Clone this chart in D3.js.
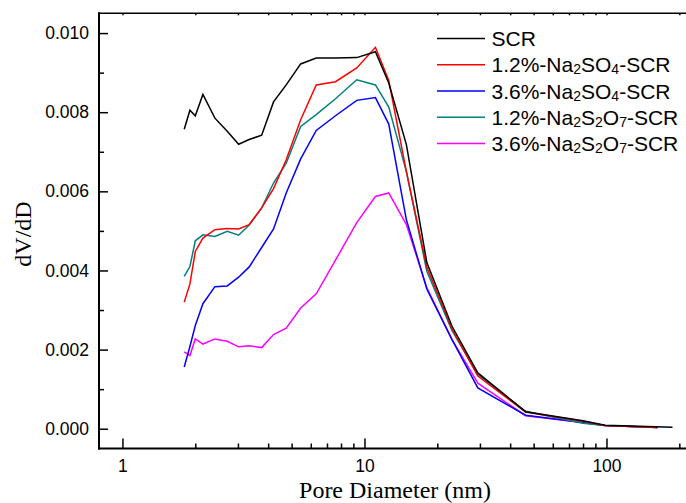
<!DOCTYPE html>
<html><head><meta charset="utf-8">
<script src="https://cdn.jsdelivr.net/npm/d3@7"></script>
<style>body{margin:0;background:#fff;overflow:hidden} svg{display:block}</style>
</head><body>
<svg id="chart" width="686" height="503"></svg>
<script>
// ---- data ----
const poreDiameter = [1.80, 1.90, 2.00, 2.15, 2.41, 2.71, 3.02, 3.34, 3.76, 4.21, 4.75, 5.45, 6.32, 7.59, 9.29, 11.1, 12.6, 14.9, 18.1, 23.0, 29.4, 46.3, 79.9, 98.6, 162.4];
const poreDiameterSCR = [1.80, 1.90, 2.00, 2.15, 2.41, 2.71, 3.02, 3.34, 3.76, 4.21, 4.75, 5.45, 6.32, 7.59, 9.29, 11.1, 12.6, 14.9, 18.1, 23.0, 29.4, 46.3, 79.9, 98.6, 187.4];
const scr      = [0.00757, 0.00805, 0.00791, 0.00845, 0.00785, 0.00752, 0.00719, 0.00731, 0.00742, 0.00826, 0.00869, 0.00922, 0.00937, 0.00937, 0.00938, 0.00953, 0.00874, 0.00718, 0.00420, 0.00259, 0.00141, 0.00043, 0.00020, 0.00009, 0.00004];
const na2so4_12 = [0.00320, 0.00366, 0.00448, 0.00482, 0.00503, 0.00506, 0.00505, 0.00516, 0.00558, 0.00607, 0.00680, 0.00781, 0.00869, 0.00877, 0.00912, 0.00964, 0.00880, 0.00650, 0.00408, 0.00252, 0.00133, 0.00042, 0.00019, 0.00008, 0.00003];
const na2so4_36 = [0.00156, 0.00208, 0.00261, 0.00316, 0.00359, 0.00361, 0.00383, 0.00409, 0.00458, 0.00505, 0.00596, 0.00682, 0.00754, 0.00791, 0.00830, 0.00837, 0.00770, 0.00528, 0.00353, 0.00225, 0.00103, 0.00034, 0.00016, 0.00008, 0.00003];
const na2s2o7_12 = [0.00385, 0.00410, 0.00475, 0.00490, 0.00486, 0.00499, 0.00489, 0.00515, 0.00558, 0.00621, 0.00671, 0.00764, 0.00794, 0.00834, 0.00882, 0.00869, 0.00813, 0.00650, 0.00398, 0.00248, 0.00137, 0.00044, 0.00014, 0.00008, 0.00003];
const na2s2o7_36 = [0.00194, 0.00185, 0.00227, 0.00214, 0.00227, 0.00221, 0.00207, 0.00210, 0.00205, 0.00238, 0.00254, 0.00305, 0.00341, 0.00426, 0.00521, 0.00587, 0.00596, 0.00516, 0.00356, 0.00225, 0.00115, 0.00033, 0.00016, 0.00008, 0.00003];

const seriesNames = ["SCR", "1.2%-Na2SO4-SCR", "3.6%-Na2SO4-SCR", "1.2%-Na2S2O7-SCR", "3.6%-Na2S2O7-SCR"];
// legend label parts: [text, isSubscript]
const legendParts = [
  [["SCR", false]],
  [["1.2%-Na", false], ["2", true], ["SO", false], ["4", true], ["-SCR", false]],
  [["3.6%-Na", false], ["2", true], ["SO", false], ["4", true], ["-SCR", false]],
  [["1.2%-Na", false], ["2", true], ["S", false], ["2", true], ["O", false], ["7", true], ["-SCR", false]],
  [["3.6%-Na", false], ["2", true], ["S", false], ["2", true], ["O", false], ["7", true], ["-SCR", false]]
];
const seriesColors = ["#000000", "#ff0000", "#0000ff", "#008080", "#ff00ff"];
const yTicks = [0.000, 0.002, 0.004, 0.006, 0.008, 0.010];
const yMinorTicks = [0.001, 0.003, 0.005, 0.007, 0.009];
const xTicks = [1, 10, 100];
const xMinorTicks = [2,3,4,5,6,7,8,9,20,30,40,50,60,70,80,90,200];
const xDomain = [0.8, 240];
const yDomain = [-0.0005, 0.0105];

// ---- chart ----
const svg = d3.select("#chart");
const L = 99, R = 698.5, T = 13.3, B = 448.5;
const x = d3.scaleLog().domain(xDomain).range([L, R]);
const y = d3.scaleLinear().domain(yDomain).range([B, T]);
const sans = "Liberation Sans";
const serif = "Liberation Serif";

const xs = [poreDiameterSCR, poreDiameter, poreDiameter, poreDiameter, poreDiameter];
const ys = [scr, na2so4_12, na2so4_36, na2s2o7_12, na2s2o7_36];

const line = d3.line().x(d => x(d[0])).y(d => y(d[1]));
const order = [4, 2, 3, 1, 0];
order.forEach(i => {
  const pts = xs[i].map((v, k) => [v, ys[i][k]]);
  svg.append("path").datum(pts)
    .attr("d", line).attr("fill", "none")
    .attr("stroke", seriesColors[i]).attr("stroke-width", 1.5)
    .attr("stroke-linejoin", "miter");
});

// axes
function styleAxis(g) {
  g.attr("font-family", null).attr("font-size", null);
  g.select(".domain").remove();
  g.selectAll(".tick line").attr("stroke", "#000").attr("stroke-width", 1.5);
  g.selectAll(".tick text").attr("fill", "#000").style("font-family", sans).style("font-size", "17.5px");
}
svg.append("g").attr("transform", `translate(${L},0)`)
  .call(d3.axisLeft(y).tickValues(yTicks).tickSize(-9).tickPadding(10).tickFormat(d3.format(".3f")))
  .call(styleAxis);
svg.append("g").attr("transform", `translate(${L},0)`)
  .call(d3.axisLeft(y).tickValues(yMinorTicks).tickSize(-5).tickFormat(""))
  .call(styleAxis);
svg.append("g").attr("transform", `translate(0,${B})`)
  .call(d3.axisBottom(x).tickValues(xTicks).tickSize(-10).tickPadding(11).tickFormat(d3.format("d")))
  .call(styleAxis);
svg.append("g").attr("transform", `translate(0,${B})`)
  .call(d3.axisBottom(x).tickValues(xMinorTicks).tickSize(-5).tickFormat(""))
  .call(styleAxis);
svg.append("g").attr("transform", `translate(0,${T})`)
  .call(d3.axisTop(x).tickValues(xTicks.concat(xMinorTicks)).tickSize(-2).tickFormat(""))
  .call(styleAxis);

// frame lines
svg.append("line").attr("x1", L).attr("x2", L).attr("y1", T - 1).attr("y2", B + 1).attr("stroke", "#000").attr("stroke-width", 2);
svg.append("line").attr("x1", L - 1).attr("x2", R).attr("y1", B).attr("y2", B).attr("stroke", "#000").attr("stroke-width", 2);
svg.append("line").attr("x1", L - 1).attr("x2", R).attr("y1", T).attr("y2", T).attr("stroke", "#000").attr("stroke-width", 1.5);

// axis titles
svg.append("text").attr("x", 395).attr("y", 498).attr("text-anchor", "middle")
  .style("font-family", serif).style("font-size", "24px").attr("fill", "#000").text("Pore Diameter (nm)");
svg.append("text").attr("transform", "translate(31,234) rotate(-90)").attr("text-anchor", "middle")
  .style("font-family", serif).style("font-size", "24px").attr("fill", "#000").text("dV/dD");

// legend
const lg = svg.append("g");
seriesNames.forEach((name, i) => {
  const ly = 38.4 + i * 26.3;
  lg.append("line").attr("x1", 437).attr("x2", 485).attr("y1", ly).attr("y2", ly)
    .attr("stroke", seriesColors[i]).attr("stroke-width", 1.5);
  const t = lg.append("text").attr("x", 491.5).attr("y", ly + 7.5)
    .style("font-family", sans).style("font-size", "21px").attr("fill", "#000");
  legendParts[i].forEach(([s, sub]) => {
    const ts = t.append("tspan").text(s);
    if (sub) ts.style("font-size", "14px").attr("baseline-shift", "-2px");
  });
});
</script>
</body></html>
